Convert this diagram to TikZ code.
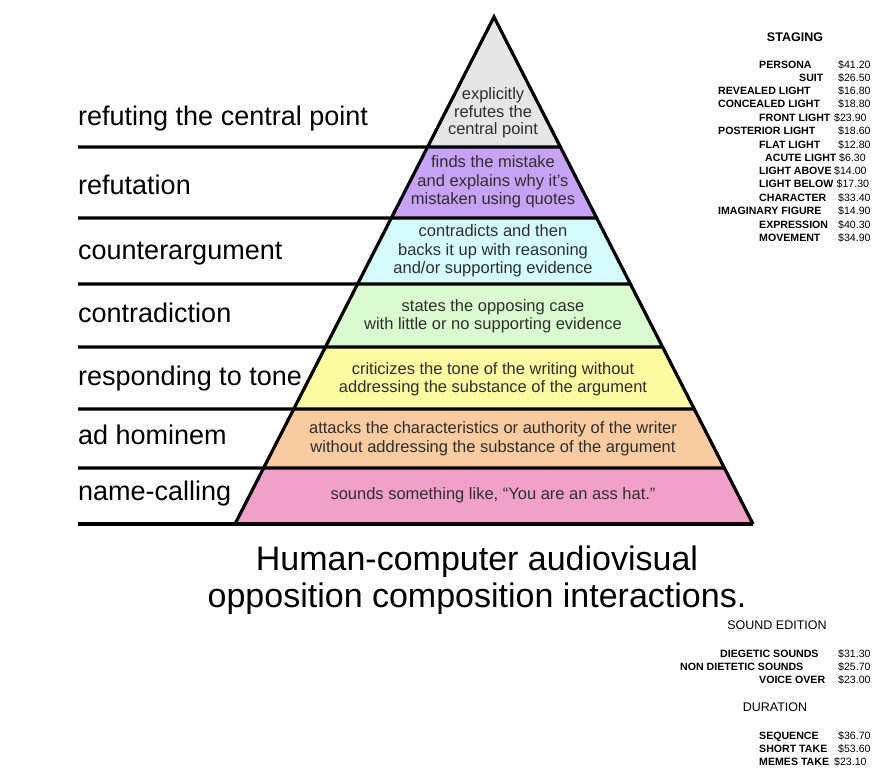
\documentclass[tikz,border=0pt]{standalone}
\usepackage{fontspec}
\setmainfont{Liberation Sans}
\usetikzlibrary{calc}
\definecolor{cgray}{HTML}{E6E6E6}
\definecolor{cpurple}{HTML}{C8A2F5}
\definecolor{ccyan}{HTML}{D5FCFC}
\definecolor{cgreen}{HTML}{DAFBD0}
\definecolor{cyellow}{HTML}{FCFBA2}
\definecolor{corange}{HTML}{F8CBA0}
\definecolor{cpink}{HTML}{F1A0C8}
\definecolor{ctext}{HTML}{2E2E2E}
\tikzset{
  sepline/.style={line width=3.4pt, line cap=butt},
  edge/.style={line width=3.2pt, line join=miter},
  leftlab/.style={anchor=base west, inner sep=0pt, font=\fontsize{27}{32}\selectfont},
  bandtxt/.style={align=center, inner sep=0pt, text=ctext, font=\fontsize{16.5}{18.5}\selectfont},
  title/.style={anchor=base, inner sep=0pt, font=\fontsize{34}{38}\selectfont},
  tlab/.style={anchor=base west, inner sep=0pt, font=\fontsize{10.6}{12}\selectfont\bfseries},
  tval/.style={anchor=base west, inner sep=0pt, font=\fontsize{10.6}{12}\selectfont},
  thead/.style={inner sep=0pt, font=\fontsize{12.5}{14}\selectfont},
}
\begin{document}
\begin{tikzpicture}[x=1pt,y=-1pt]
\useasboundingbox[fill=white] (0,0) rectangle (884,776);
% pyramid geometry
\coordinate (A) at (494,17);
\coordinate (L) at (235,524);
\coordinate (R) at (753,524);
\coordinate (L1) at ($(A)!0.2564!(L)$); \coordinate (R1) at ($(A)!0.2564!(R)$);
\coordinate (L2) at ($(A)!0.3964!(L)$); \coordinate (R2) at ($(A)!0.3964!(R)$);
\coordinate (L3) at ($(A)!0.5266!(L)$); \coordinate (R3) at ($(A)!0.5266!(R)$);
\coordinate (L4) at ($(A)!0.6509!(L)$); \coordinate (R4) at ($(A)!0.6509!(R)$);
\coordinate (L5) at ($(A)!0.7732!(L)$); \coordinate (R5) at ($(A)!0.7732!(R)$);
\coordinate (L6) at ($(A)!0.8895!(L)$); \coordinate (R6) at ($(A)!0.8895!(R)$);
\coordinate (S1) at (78,147);
\coordinate (S2) at (78,218);
\coordinate (S3) at (78,284);
\coordinate (S4) at (78,347);
\coordinate (S5) at (78,409);
\coordinate (S6) at (78,468);
\coordinate (S7) at (78,524);
% bands
\fill[cgray] (A) -- (R1) -- (L1) -- cycle;
\fill[cpurple] (L1) -- (R1) -- (R2) -- (L2) -- cycle;
\fill[ccyan] (L2) -- (R2) -- (R3) -- (L3) -- cycle;
\fill[cgreen] (L3) -- (R3) -- (R4) -- (L4) -- cycle;
\fill[cyellow] (L4) -- (R4) -- (R5) -- (L5) -- cycle;
\fill[corange] (L5) -- (R5) -- (R6) -- (L6) -- cycle;
\fill[cpink] (L6) -- (R6) -- (R) -- (L) -- cycle;
% separator lines
\draw[sepline] (S1) -- (R1);
\draw[sepline] (S2) -- (R2);
\draw[sepline] (S3) -- (R3);
\draw[sepline] (S4) -- (R4);
\draw[sepline] (S5) -- (R5);
\draw[sepline] (S6) -- (R6);
\draw[sepline] (S7) -- (R);
\draw[edge] (L) -- (A) -- (R);
% left labels
\node[leftlab] (n1) at (78,125) {refuting the central point};
\node[leftlab] (n2) at (78,194) {refutation};
\node[leftlab] (n3) at (78,259) {counterargument};
\node[leftlab] (n4) at (78,322) {contradiction};
\node[leftlab] (n5) at (78,385) {responding to tone};
\node[leftlab] (n6) at (78,444) {ad hominem};
\node[leftlab] (n7) at (78,500) {name-calling};
% band texts
\node[bandtxt, font=\fontsize{16.5}{17.3}\selectfont] (b1) at (493,113) {explicitly\\refutes the\\central point};
\node[bandtxt] (b2) at (493,182) {finds the mistake\\and explains why it's\\mistaken using quotes};
\node[bandtxt] (b3) at (493,251) {contradicts and then\\backs it up with reasoning\\and/or supporting evidence};
\node[bandtxt] (b4) at (493,316) {states the opposing case\\with little or no supporting evidence};
\node[bandtxt] (b5) at (493,379) {criticizes the tone of the writing without\\addressing the substance of the argument};
\node[bandtxt] (b6) at (493,438.5) {attacks the characteristics or authority of the writer\\without addressing the substance of the argument};
\node[bandtxt] (b7) at (493,495) {sounds something like, “You are an ass hat.”};
% title
\node[title] (t1) at (477,570) {Human-computer audiovisual};
\node[title] (t2) at (477,607) {opposition composition interactions.};
% staging table
\node[thead, font=\fontsize{12.5}{14}\selectfont\bfseries] (h1) at (795,37) {STAGING};
\foreach [count=\i] \lx/\yy/\lab/\vx/\val in {
  759/65/PERSONA/838/\$41.20,
  799/78/SUIT/838/\$26.50,
  718/91/REVEALED LIGHT/838/\$16.80,
  718/104/CONCEALED LIGHT/838/\$18.80,
  759/118/FRONT LIGHT/834/\$23.90,
  718/131/POSTERIOR LIGHT/838/\$18.60,
  759/145/FLAT LIGHT/838/\$12.80,
  765/158/ACUTE LIGHT/839/\$6.30,
  759/171/LIGHT ABOVE/834/\$14.00,
  759/184/LIGHT BELOW/836.5/\$17.30,
  759/198/CHARACTER/838/\$33.40,
  718/211/IMAGINARY FIGURE/838/\$14.90,
  759/225/EXPRESSION/838/\$40.30,
  759/238/MOVEMENT/838/\$34.90}{
  \node[tlab] (sl\i) at (\lx,\yy+3.8) {\lab};
  \node[tval] (sv\i) at (\vx,\yy+3.8) {\val};
}
% sound edition
\node[thead] (h2) at (777,625) {SOUND EDITION};
\foreach [count=\i] \lx/\yy/\lab/\vx/\val in {
  720/654/DIEGETIC SOUNDS/838/\$31.30,
  680/667/NON DIETETIC SOUNDS/838/\$25.70,
  759/680/VOICE OVER/838/\$23.00}{
  \node[tlab] (el\i) at (\lx,\yy+3.8) {\lab};
  \node[tval] (ev\i) at (\vx,\yy+3.8) {\val};
}
% duration
\node[thead] (h3) at (775,707) {DURATION};
\foreach [count=\i] \lx/\yy/\lab/\vx/\val in {
  759/736/SEQUENCE/838/\$36.70,
  759/749/SHORT TAKE/838/\$53.60,
  759/762/MEMES TAKE/834/\$23.10}{
  \node[tlab] (dl\i) at (\lx,\yy+3.8) {\lab};
  \node[tval] (dv\i) at (\vx,\yy+3.8) {\val};
}
\end{tikzpicture}
\end{document}
